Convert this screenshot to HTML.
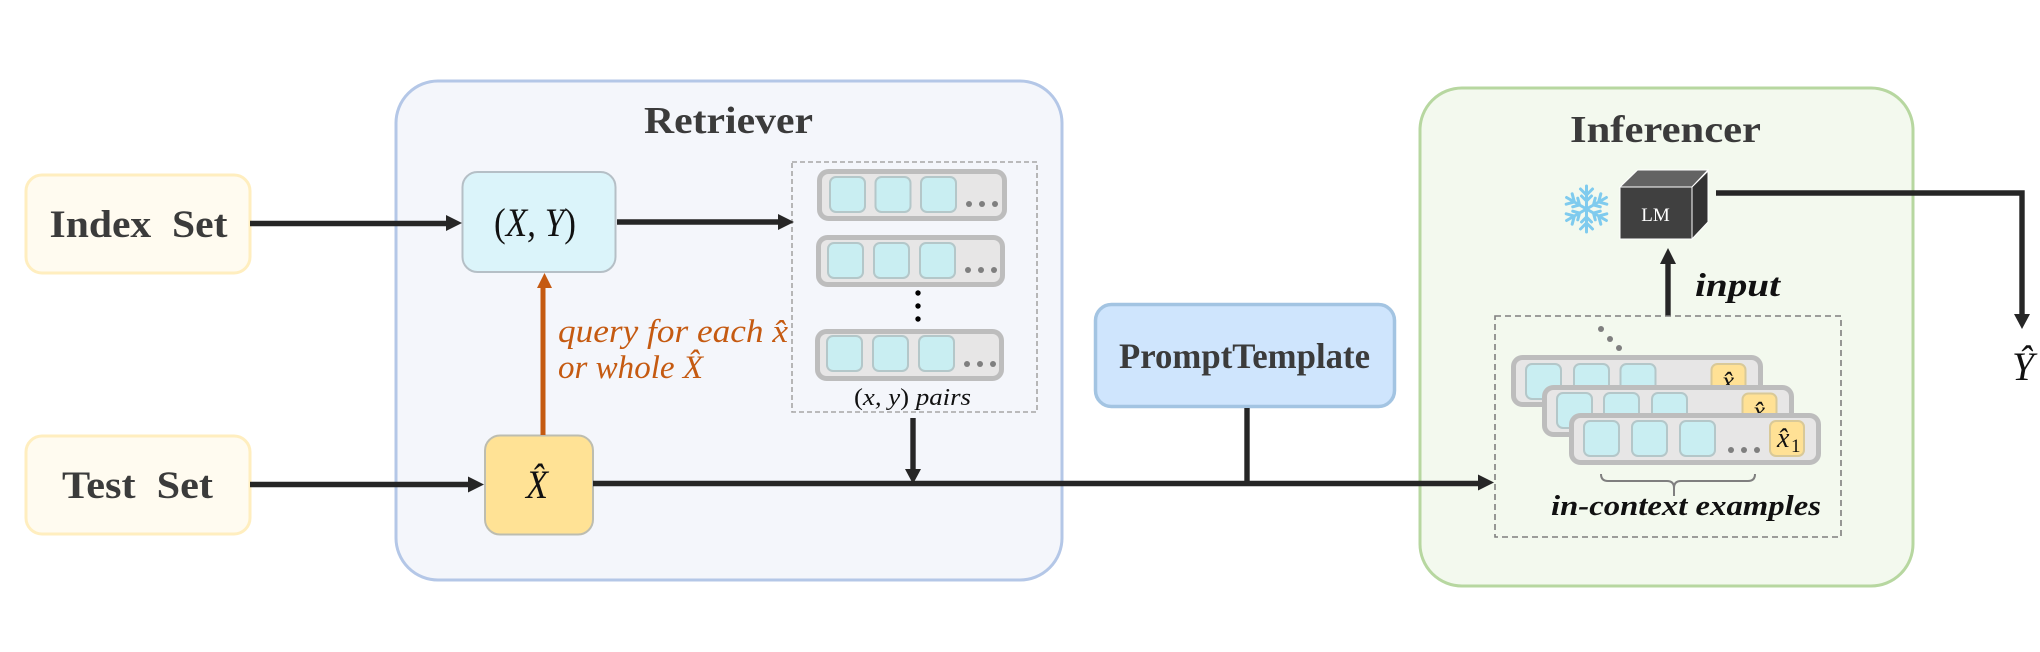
<!DOCTYPE html>
<html lang="en">
<head>
<meta charset="utf-8">
<title>Retriever and Inferencer diagram</title>
<style>
html,body{margin:0;padding:0;background:#fff;width:2040px;height:652px;overflow:hidden}
svg{display:block}
text{font-family:"Liberation Serif","DejaVu Serif",serif}
.lbl{font-weight:bold;fill:#3b3b3b}
.it{font-style:italic}
.up{font-style:normal}
.row{fill:#e7e6e6;stroke:#bdbdbd;stroke-width:5}
.cell{fill:#c9eef2;stroke:#b4c7c9;stroke-width:2}
.yc{fill:#ffe195;stroke:#d9c998;stroke-width:2}
.ln{stroke:#262626;stroke-width:5.400;fill:none}
.hd{fill:#262626}
.dash{fill:none;stroke:#a6a6a6;stroke-width:1.600;stroke-dasharray:5 3}
.d{fill:#7f7f7f}
</style>
</head>
<body>
<svg width="2040" height="652" viewBox="0 0 2040 652" xmlns="http://www.w3.org/2000/svg">
<!-- containers -->
<rect x="396" y="81" width="666" height="499" rx="42" fill="#f4f6fb" stroke="#b4c7e7" stroke-width="3"/>
<rect x="1420" y="88" width="493" height="498" rx="42" fill="#f3f9ee" stroke="#b7d7a0" stroke-width="3"/>

<!-- left boxes -->
<rect x="26" y="175" width="224" height="98" rx="16" fill="#fffbf0" stroke="#ffeebf" stroke-width="3"/>
<rect x="26" y="436" width="224" height="98" rx="16" fill="#fffbf0" stroke="#ffeebf" stroke-width="3"/>
<text class="lbl" x="49.500" y="237" font-size="39" textLength="178" lengthAdjust="spacingAndGlyphs" xml:space="preserve">Index  Set</text>
<text class="lbl" x="62" y="498" font-size="39" textLength="151" lengthAdjust="spacingAndGlyphs" xml:space="preserve">Test  Set</text>

<!-- titles -->
<text class="lbl" x="644" y="133" font-size="38" textLength="169" lengthAdjust="spacingAndGlyphs">Retriever</text>
<text class="lbl" x="1570" y="142" font-size="38" textLength="191" lengthAdjust="spacingAndGlyphs">Inferencer</text>

<!-- retriever nodes -->
<rect x="462.500" y="172" width="153" height="100" rx="15" fill="#dbf4fa" stroke="#b5bfc6" stroke-width="2"/>
<text class="it" x="494" y="236" font-size="40" fill="#111" textLength="82" lengthAdjust="spacingAndGlyphs"><tspan class="up">(</tspan>X, Y<tspan class="up">)</tspan></text>
<rect x="485" y="435.500" width="108" height="99" rx="15" fill="#ffe295" stroke="#bdbdb0" stroke-width="2"/>
<text class="it" x="526" y="498" font-size="40" fill="#111" textLength="22" lengthAdjust="spacingAndGlyphs">X̂</text>

<!-- orange query -->
<path d="M543 435V285" stroke="#c55a11" stroke-width="5" fill="none"/>
<path d="M544.500 273l7.500 15h-15z" fill="#c55a11"/>
<text class="it" x="558" y="342" font-size="33" fill="#c55a11" textLength="230" lengthAdjust="spacingAndGlyphs">query for each x̂</text>
<text class="it" x="558" y="378" font-size="33" fill="#c55a11" textLength="145" lengthAdjust="spacingAndGlyphs">or whole X̂</text>

<!-- pairs box -->
<rect class="dash" x="792" y="162" width="245" height="250"/>
<rect class="row" x="819.500" y="171.500" width="185" height="47" rx="9"/>
<rect class="cell" x="830" y="177" width="35" height="35" rx="6"/>
<rect class="cell" x="875.500" y="177" width="35" height="35" rx="6"/>
<rect class="cell" x="921" y="177" width="35" height="35" rx="6"/>
<circle class="d" cx="969" cy="204" r="3"/><circle class="d" cx="982" cy="204" r="3"/><circle class="d" cx="995" cy="204" r="3"/>

<rect class="row" x="818.500" y="237.500" width="184" height="47" rx="9"/>
<rect class="cell" x="828" y="243" width="35" height="35" rx="6"/>
<rect class="cell" x="874" y="243" width="35" height="35" rx="6"/>
<rect class="cell" x="920" y="243" width="35" height="35" rx="6"/>
<circle class="d" cx="968" cy="270" r="3"/><circle class="d" cx="981" cy="270" r="3"/><circle class="d" cx="994" cy="270" r="3"/>

<circle cx="918" cy="293" r="2.700" fill="#000"/><circle cx="918" cy="306" r="2.700" fill="#000"/><circle cx="918" cy="319" r="2.700" fill="#000"/>

<rect class="row" x="817.500" y="331.500" width="184" height="47" rx="9"/>
<rect class="cell" x="827" y="336" width="35" height="35" rx="6"/>
<rect class="cell" x="873" y="336" width="35" height="35" rx="6"/>
<rect class="cell" x="919" y="336" width="35" height="35" rx="6"/>
<circle class="d" cx="967" cy="364" r="3"/><circle class="d" cx="980" cy="364" r="3"/><circle class="d" cx="993" cy="364" r="3"/>
<text class="it" x="854" y="405" font-size="24" fill="#111" textLength="117" lengthAdjust="spacingAndGlyphs"><tspan class="up">(</tspan>x, y<tspan class="up">)</tspan> pairs</text>

<!-- prompt template -->
<rect x="1095.500" y="304.500" width="299" height="102" rx="16" fill="#cfe5fd" stroke="#a3c4e2" stroke-width="3.500"/>
<text class="lbl" x="1119" y="368" font-size="36" textLength="251" lengthAdjust="spacingAndGlyphs">PromptTemplate</text>

<!-- arrows -->
<path class="ln" d="M250 223.500H449"/><path class="hd" d="M462 223l-16-8v16z"/>
<path class="ln" d="M617 222H780"/><path class="hd" d="M794 222l-16-8v16z"/>
<path class="ln" d="M250 484.500H472"/><path class="hd" d="M484 484.500l-16-8v16z"/>
<path class="ln" d="M593 483.500H1482"/><path class="hd" d="M1494 482.500l-16-8v16z"/>
<path class="ln" d="M913 418V472"/><path class="hd" d="M913 484l-8-15h16z"/>
<path class="ln" d="M1247 408V483"/>
<path class="ln" d="M1668 316V260"/><path class="hd" d="M1668 248l-8 16h16z"/>
<path class="ln" d="M1716 193H2022V318"/><path class="hd" d="M2022 329l-8-15h16z"/>

<!-- cube -->
<polygon points="1620,187 1637.500,170 1708,170 1692,187" fill="#636363" stroke="#fff" stroke-width="1"/>
<polygon points="1692,187 1708,171 1708,222 1692,239" fill="#333" stroke="#fff" stroke-width="1"/>
<rect x="1620" y="187" width="72" height="52" fill="#404040" stroke="#fff" stroke-width="1"/>
<text x="1655.500" y="221" font-size="19" fill="#fff" text-anchor="middle">LM</text>

<!-- snowflake -->
<g transform="translate(1586.500 209)" stroke="#7fcbee" stroke-width="3" fill="none" stroke-linecap="round">
<path d="M0 0V-23M-6-20L0-14L6-20M-5-13L0-8L5-13"/>
<g transform="rotate(60)"><path d="M0 0V-23M-6-20L0-14L6-20M-5-13L0-8L5-13"/></g>
<g transform="rotate(120)"><path d="M0 0V-23M-6-20L0-14L6-20M-5-13L0-8L5-13"/></g>
<g transform="rotate(180)"><path d="M0 0V-23M-6-20L0-14L6-20M-5-13L0-8L5-13"/></g>
<g transform="rotate(240)"><path d="M0 0V-23M-6-20L0-14L6-20M-5-13L0-8L5-13"/></g>
<g transform="rotate(300)"><path d="M0 0V-23M-6-20L0-14L6-20M-5-13L0-8L5-13"/></g>
</g>

<text x="1695" y="296" font-size="33" font-weight="bold" font-style="italic" fill="#111" textLength="85" lengthAdjust="spacingAndGlyphs">input</text>

<!-- examples box -->
<rect x="1495" y="316" width="346" height="221" fill="none" stroke="#7f7f7f" stroke-width="1.600" stroke-dasharray="6 4"/>
<circle class="d" cx="1601" cy="329" r="3"/><circle class="d" cx="1610" cy="339" r="3"/><circle class="d" cx="1619" cy="348" r="3"/>

<rect class="row" x="1513.500" y="357.500" width="247" height="47" rx="9"/>
<rect class="cell" x="1526" y="364" width="35" height="35" rx="6"/>
<rect class="cell" x="1574" y="364" width="35" height="35" rx="6"/>
<rect class="cell" x="1620.500" y="364" width="35" height="35" rx="6"/>
<rect class="yc" x="1711.500" y="364" width="34" height="35" rx="6"/>
<text class="it" x="1722" y="390" font-size="27" fill="#111">x̂</text>

<rect class="row" x="1544.500" y="387.500" width="247" height="47" rx="9"/>
<rect class="cell" x="1557" y="393" width="35" height="35" rx="6"/>
<rect class="cell" x="1604" y="393" width="35" height="35" rx="6"/>
<rect class="cell" x="1652" y="393" width="35" height="35" rx="6"/>
<rect class="yc" x="1742.500" y="393.500" width="34" height="34" rx="6"/>
<text class="it" x="1753" y="420" font-size="27" fill="#111">x̂</text>

<rect class="row" x="1571.500" y="415.500" width="247" height="47" rx="9"/>
<rect class="cell" x="1584" y="421" width="35" height="35" rx="6"/>
<rect class="cell" x="1632" y="421" width="35" height="35" rx="6"/>
<rect class="cell" x="1680" y="421" width="35" height="35" rx="6"/>
<circle class="d" cx="1731" cy="450" r="3"/><circle class="d" cx="1744" cy="450" r="3"/><circle class="d" cx="1757" cy="450" r="3"/>
<rect class="yc" x="1770" y="421" width="34" height="35" rx="6"/>
<text class="it" x="1777" y="447" font-size="28" fill="#111">x̂</text>
<text x="1791" y="452" font-size="19" fill="#111">1</text>

<path d="M1601 474q0 7 7 7H1667q7 0 7 7q0-7 7-7H1748q7 0 7-7M1674 486V496" fill="none" stroke="#7f7f7f" stroke-width="2"/>
<text x="1551" y="515" font-size="29" font-weight="bold" font-style="italic" fill="#111" textLength="270" lengthAdjust="spacingAndGlyphs">in-context examples</text>

<!-- output -->
<text class="it" x="2012" y="380" font-size="40" fill="#111" textLength="22" lengthAdjust="spacingAndGlyphs">Ŷ</text>
</svg>
</body>
</html>
